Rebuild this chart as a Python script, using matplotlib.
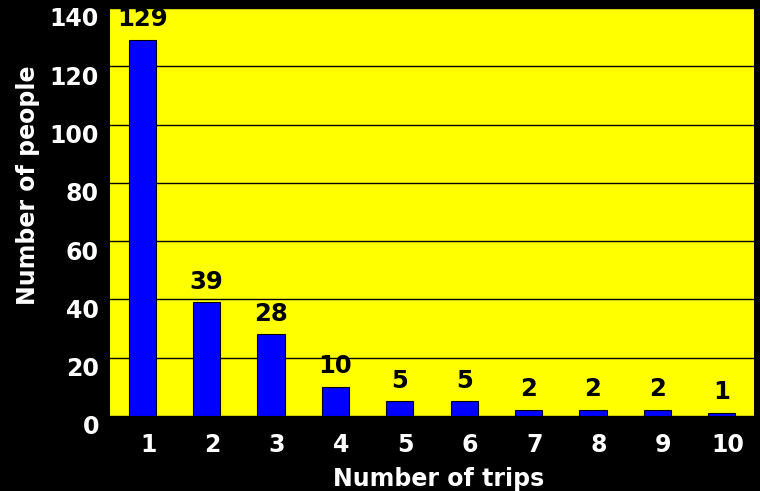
import numpy as np
import matplotlib.pyplot as plt
import matplotlib.transforms as mtransforms

trips = [1, 2, 3, 4, 5, 6, 7, 8, 9, 10]
people = [129, 39, 28, 10, 5, 5, 2, 2, 2, 1]

fig = plt.figure(figsize=(7.6, 4.91), dpi=100, facecolor='black')
ax = fig.add_axes([110/760, 75/491, 644/760, 408/491])
ax.set_facecolor('#ffff00')

ax.bar(trips, people, width=0.42, color='#0000ff', edgecolor='black', linewidth=0.8, zorder=3)
for x, v in zip(trips, people):
    ax.text(x, v + 3, str(v), ha='center', va='bottom', fontsize=17.5,
            fontweight='bold', color='black', zorder=4)

ax.set_xlim(0.5, 10.5)
ax.set_ylim(0, 140)
ax.set_yticks(np.arange(0, 141, 20))
ax.set_xticks(trips)
ax.grid(axis='y', color='black', linewidth=1, zorder=1)
ax.tick_params(axis='both', colors='white', labelsize=17, length=0)
ax.tick_params(axis='y', pad=8)
ax.tick_params(axis='x', pad=12)

# labels in the original sit a little off the gridlines / bar centres
dy = mtransforms.ScaledTranslation(0, -9/100, fig.dpi_scale_trans)
dx = mtransforms.ScaledTranslation(6/100, 0, fig.dpi_scale_trans)
for lab in ax.get_yticklabels():
    lab.set_fontweight('bold')
    lab.set_transform(lab.get_transform() + dy)
for lab in ax.get_xticklabels():
    lab.set_fontweight('bold')
    lab.set_transform(lab.get_transform() + dx)
for s in ax.spines.values():
    s.set_visible(False)

ax.set_xlabel('Number of trips', color='white', fontsize=17, fontweight='bold')
ax.set_ylabel('Number of people', color='white', fontsize=17, fontweight='bold')
ax.xaxis.set_label_coords(0.511, -0.125)
ax.yaxis.set_label_coords(-0.108, 0.565)

fig.savefig('out.png', dpi=100, facecolor='black')
